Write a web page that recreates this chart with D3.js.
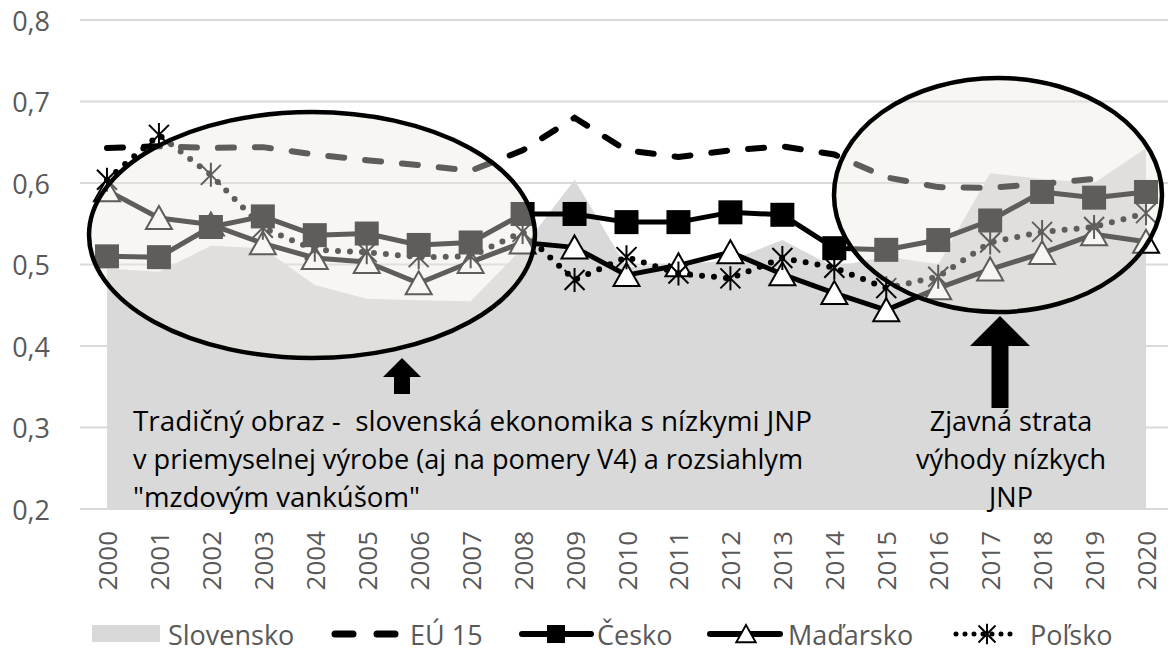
<!DOCTYPE html>
<html>
<head>
<meta charset="utf-8">
<script src="https://cdn.jsdelivr.net/npm/d3@7"></script>
<style>
  body { margin: 0; background: #fff; }
  svg { display: block; font-family: "Open Sans", "Noto Sans", sans-serif; }
</style>
</head>
<body>
<div id="chart"></div>
<script>
// data
const years = ["2000","2001","2002","2003","2004","2005","2006","2007","2008","2009","2010",
  "2011","2012","2013","2014","2015","2016","2017","2018","2019","2020"];
const slovensko = [0.495, 0.491, 0.523, 0.520, 0.475, 0.458, 0.456, 0.455, 0.520, 0.604, 0.497,
  0.500, 0.505, 0.530, 0.497, 0.510, 0.500, 0.612, 0.605, 0.600, 0.643];
const eu15 = [0.643, 0.645, 0.643, 0.644, 0.635, 0.628, 0.622, 0.615, 0.640, 0.680, 0.640,
  0.632, 0.640, 0.645, 0.635, 0.607, 0.595, 0.594, 0.599, 0.605, null];
const cesko = [0.510, 0.509, 0.546, 0.559, 0.536, 0.538, 0.524, 0.527, 0.562, 0.562, 0.552,
  0.552, 0.564, 0.561, 0.520, 0.518, 0.530, 0.554, 0.589, 0.582, 0.589];
const madarsko = [0.591, 0.557, 0.549, 0.526, 0.508, 0.503, 0.477, 0.503, 0.527, 0.521, 0.487,
  0.499, 0.515, 0.488, 0.465, 0.444, 0.471, 0.494, 0.514, 0.537, 0.528];
const polsko = [0.604, 0.659, 0.610, 0.545, 0.518, 0.515, 0.509, 0.510, 0.540, 0.481, 0.509,
  0.489, 0.483, 0.508, 0.496, 0.471, 0.485, 0.527, 0.540, 0.546, 0.563];
const yTicks = [0.2, 0.3, 0.4, 0.5, 0.6, 0.7, 0.8];
const legendNames = ["Slovensko", "EÚ 15", "Česko", "Maďarsko", "Poľsko"];
const noteLeft = ["Tradičný obraz -  slovenská ekonomika s nízkymi JNP",
  "v priemyselnej výrobe (aj na pomery V4) a rozsiahlym",
  "\"mzdovým vankúšom\""];
const noteRight = ["Zjavná strata", "výhody nízkych", "JNP"];

const width = 1168, height = 653;
const svg = d3.select("#chart").append("svg")
  .attr("width", width).attr("height", height);

const x = d3.scalePoint().domain(years).range([81, 1172]).padding(0.5);
const y = d3.scaleLinear().domain([0.2, 0.8]).range([509, 20]);

// gridlines
svg.append("g").selectAll("line").data(yTicks).join("line")
  .attr("x1", 80).attr("x2", width)
  .attr("y1", d => y(d)).attr("y2", d => y(d))
  .attr("stroke", "#d9d9d9").attr("stroke-width", 2);

// y tick labels
svg.append("g").selectAll("text").data(yTicks).join("text")
  .attr("x", 50).attr("y", d => y(d))
  .attr("text-anchor", "end").attr("dominant-baseline", "central")
  .attr("font-size", 27).attr("fill", "#595959")
  .text(d => d.toFixed(1).replace(".", ","));

// x tick labels, rotated
svg.append("g").selectAll("text").data(years).join("text")
  .attr("transform", d => `translate(${x(d)},531) rotate(-90)`)
  .attr("text-anchor", "end").attr("dominant-baseline", "central")
  .attr("font-size", 26).attr("fill", "#595959")
  .text(d => d);

// Slovensko area
const area = d3.area()
  .x((d, i) => x(years[i]))
  .y0(y(0.2))
  .y1(d => y(d));
svg.append("path").datum(slovensko)
  .attr("d", area).attr("fill", "#d9d9d9");

const line = d3.line()
  .defined(d => d != null)
  .x((d, i) => x(years[i]))
  .y(d => y(d));

// EÚ 15 dashed
svg.append("path").datum(eu15)
  .attr("d", line).attr("fill", "none")
  .attr("stroke", "#000").attr("stroke-width", 6)
  .attr("stroke-linecap", "round").attr("stroke-dasharray", "16,21");

const triPath = "M0,-12L13,11L-13,11Z";
const starPath = "M0,-12V12M-10,-10L10,10M10,-10L-10,10";

// Maďarsko
svg.append("path").datum(madarsko)
  .attr("d", line).attr("fill", "none")
  .attr("stroke", "#000").attr("stroke-width", 5).attr("stroke-linejoin", "round");
svg.append("g").selectAll("path").data(madarsko).join("path")
  .attr("transform", (d, i) => `translate(${x(years[i])},${y(d)})`)
  .attr("d", triPath).attr("fill", "#fff")
  .attr("stroke", "#000").attr("stroke-width", 2);

// Česko
svg.append("path").datum(cesko)
  .attr("d", line).attr("fill", "none")
  .attr("stroke", "#000").attr("stroke-width", 5).attr("stroke-linejoin", "round");
svg.append("g").selectAll("rect").data(cesko).join("rect")
  .attr("x", (d, i) => x(years[i]) - 12).attr("y", d => y(d) - 12)
  .attr("width", 24).attr("height", 24).attr("fill", "#000");

// Poľsko dotted
svg.append("path").datum(polsko)
  .attr("d", line).attr("fill", "none")
  .attr("stroke", "#000").attr("stroke-width", 6)
  .attr("stroke-linecap", "round").attr("stroke-dasharray", "0,12");
svg.append("g").selectAll("path").data(polsko).join("path")
  .attr("transform", (d, i) => `translate(${x(years[i])},${y(d)})`)
  .attr("d", starPath).attr("fill", "none")
  .attr("stroke", "#000").attr("stroke-width", 2);

// highlight ellipses (semi-transparent, fade what is under them)
const ellipses = [
  { cx: 312, cy: 235, rx: 223, ry: 123 },
  { cx: 998, cy: 195, rx: 164, ry: 117 }
];
svg.append("g").selectAll("ellipse").data(ellipses).join("ellipse")
  .attr("cx", d => d.cx).attr("cy", d => d.cy)
  .attr("rx", d => d.rx).attr("ry", d => d.ry)
  .attr("fill", "rgb(235,233,223)").attr("fill-opacity", 0.4)
  .attr("stroke", "#000").attr("stroke-width", 4.5);

// arrows
function arrow(cx, tip, headBase, bottom, headW, shaftW) {
  return `M${cx},${tip}L${cx + headW / 2},${headBase}L${cx + shaftW / 2},${headBase}` +
    `L${cx + shaftW / 2},${bottom}L${cx - shaftW / 2},${bottom}L${cx - shaftW / 2},${headBase}` +
    `L${cx - headW / 2},${headBase}Z`;
}
svg.append("path").attr("d", arrow(402, 358, 377, 394, 38, 16)).attr("fill", "#000");
svg.append("path").attr("d", arrow(1000, 316, 346, 408, 60, 17)).attr("fill", "#000");

// annotation texts
const leftLens = [679, 670, 287];
svg.append("g").selectAll("text").data(noteLeft).join("text")
  .attr("x", 133).attr("y", (d, i) => 420 + i * 38)
  .attr("dominant-baseline", "central")
  .attr("font-size", 27).attr("fill", "#000")
  .style("white-space", "pre")
  .attr("textLength", (d, i) => leftLens[i]).attr("lengthAdjust", "spacingAndGlyphs")
  .text(d => d);
svg.append("g").selectAll("text").data(noteRight).join("text")
  .attr("x", 1011).attr("y", (d, i) => 420 + i * 38)
  .attr("dominant-baseline", "central").attr("text-anchor", "middle")
  .attr("font-size", 27).attr("fill", "#000")
  .text(d => d);

// legend
const ly = 634;
const lg = svg.append("g");
const textX = [168, 410, 597, 788, 1030];
lg.append("rect").attr("x", 92).attr("y", ly - 9)
  .attr("width", 68).attr("height", 17).attr("fill", "#d9d9d9");
lg.append("line").attr("x1", 335).attr("x2", 395)
  .attr("y1", ly).attr("y2", ly).attr("stroke", "#000").attr("stroke-width", 7)
  .attr("stroke-linecap", "round").attr("stroke-dasharray", "18,24");
lg.append("line").attr("x1", 522).attr("x2", 591)
  .attr("y1", ly).attr("y2", ly).attr("stroke", "#000").attr("stroke-width", 6)
  .attr("stroke-linecap", "round");
lg.append("rect").attr("x", 556 - 9).attr("y", ly - 9)
  .attr("width", 18).attr("height", 18).attr("fill", "#000");
lg.append("line").attr("x1", 710).attr("x2", 780)
  .attr("y1", ly).attr("y2", ly).attr("stroke", "#000").attr("stroke-width", 6)
  .attr("stroke-linecap", "round");
lg.append("path").attr("transform", `translate(746,${ly}) scale(0.75)`).attr("d", triPath)
  .attr("fill", "#fff").attr("stroke", "#000").attr("stroke-width", 2.5);
lg.append("line").attr("x1", 956).attr("x2", 1016)
  .attr("y1", ly).attr("y2", ly).attr("stroke", "#000").attr("stroke-width", 5)
  .attr("stroke-linecap", "round").attr("stroke-dasharray", "0,9");
lg.append("path").attr("transform", `translate(987,${ly}) scale(0.85)`).attr("d", starPath)
  .attr("fill", "none").attr("stroke", "#000").attr("stroke-width", 2.3);
lg.selectAll("text").data(legendNames).join("text")
  .attr("x", (d, i) => textX[i]).attr("y", ly)
  .attr("dominant-baseline", "central")
  .attr("font-size", 27).attr("fill", "#595959")
  .text(d => d);
</script>
</body>
</html>
